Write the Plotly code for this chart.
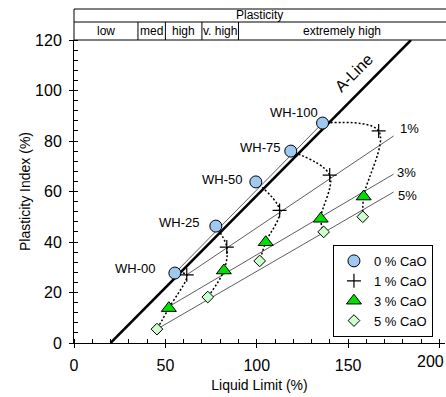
import plotly.graph_objects as go

# ---------------- data ----------------
samples = ["WH-00", "WH-25", "WH-50", "WH-75", "WH-100"]

ll_0 = [55.2, 77.6, 99.5, 118.6, 136.0]   # 0 % CaO
pi_0 = [27.7, 46.3, 63.8, 76.0, 87.1]
ll_1 = [61.7, 83.6, 112.5, 139.9, 166.7]  # 1 % CaO
pi_1 = [27.0, 38.0, 52.5, 66.5, 84.0]
ll_3 = [51.9, 82.0, 104.9, 135.0, 158.5]  # 3 % CaO
pi_3 = [13.8, 28.7, 39.9, 49.2, 58.0]
ll_5 = [45.4, 73.2, 101.6, 136.6, 158.0]  # 5 % CaO
pi_5 = [5.5, 18.2, 32.5, 44.0, 50.0]

# trend lines (end points)
trend0_ll = [55.2, 136.0]
trend0_pi = [27.7, 87.1]
trend1_ll = [61.7, 174.9]
trend1_pi = [27.0, 82.0]
trend3_ll = [51.9, 174.9]
trend3_pi = [14.4, 66.9]
trend5_ll = [45.4, 174.9]
trend5_pi = [5.5, 59.8]
trend_labels = ["1%", "3%", "5%"]

# A-line
aline_ll = [20, 184.4]
aline_pi = [0, 120]

# plasticity classification header
plast_bounds = [0, 35, 50, 70, 90, 203]
plast_labels = ["low", "med", "high", "v. high", "extremely high"]

legend_names = ["0 % CaO", "1 % CaO", "3 % CaO", "5 % CaO"]

x_tickvals = [0, 50, 100, 150, 200]
x_ticktext = ["0", "50", "100", "150", "200"]

FONT = "Liberation Sans, Arial, sans-serif"

fig = go.Figure()

# thin trend lines
for tx, ty in [(trend0_ll, trend0_pi), (trend1_ll, trend1_pi),
               (trend3_ll, trend3_pi), (trend5_ll, trend5_pi)]:
    fig.add_trace(go.Scatter(x=tx, y=ty, mode="lines",
                             line=dict(color="#333333", width=0.8),
                             showlegend=False, hoverinfo="skip"))

# A-line
fig.add_trace(go.Scatter(x=aline_ll, y=aline_pi, mode="lines",
                         line=dict(color="black", width=2.5),
                         showlegend=False, hoverinfo="skip"))

# dotted connecting curves for each sample
for i in range(len(samples)):
    fig.add_trace(go.Scatter(
        x=[ll_0[i], ll_1[i], ll_3[i], ll_5[i]],
        y=[pi_0[i], pi_1[i], pi_3[i], pi_5[i]],
        mode="lines",
        line=dict(color="black", width=1.5, dash="2px,2px", shape="spline", smoothing=1.0),
        showlegend=False, hoverinfo="skip"))

# markers
fig.add_trace(go.Scatter(x=ll_0, y=pi_0, mode="markers", name=legend_names[0],
                         marker=dict(symbol="circle", size=12, color="#9fc8f2",
                                     line=dict(color="black", width=1))))
fig.add_trace(go.Scatter(x=ll_1, y=pi_1, mode="markers", name=legend_names[1],
                         marker=dict(symbol="cross-thin-open", size=10, color="black",
                                     line=dict(color="black", width=1.2))))
fig.add_trace(go.Scatter(x=ll_3, y=pi_3, mode="markers", name=legend_names[2],
                         marker=dict(symbol="triangle-up", size=13, color="#00e000",
                                     line=dict(color="black", width=1))))
fig.add_trace(go.Scatter(x=ll_5, y=pi_5, mode="markers", name=legend_names[3],
                         marker=dict(symbol="diamond", size=9, color="#ccffcc",
                                     line=dict(color="black", width=1))))

annotations = []
# sample labels anchored at the 0 % CaO points
label_shifts = [(-18, 5), (-15, 4), (-12, 2), (-9, 4), (-3, 11)]
for i, s in enumerate(samples):
    annotations.append(dict(x=ll_0[i], y=pi_0[i], text=s, showarrow=False,
                            xanchor="right", yanchor="middle",
                            xshift=label_shifts[i][0], yshift=label_shifts[i][1],
                            font=dict(size=13, color="black", family=FONT)))
# trend labels at line ends
ends = [(trend1_ll[1], trend1_pi[1]), (trend3_ll[1], trend3_pi[1]), (trend5_ll[1], trend5_pi[1])]
end_shifts = [(4, 7), (1, 2), (2, -3)]
for (ex, ey), lab, (sx, sy) in zip(ends, trend_labels, end_shifts):
    annotations.append(dict(x=ex, y=ey, text=lab, showarrow=False,
                            xanchor="left", yanchor="middle", xshift=sx, yshift=sy,
                            font=dict(size=13, color="black", family=FONT)))
# A-line label
annotations.append(dict(x=160, y=102.2, text="A-Line", showarrow=False, textangle=-45,
                        xanchor="center", yanchor="middle", xshift=-12, yshift=12,
                        font=dict(size=16, color="black", family=FONT)))

# last x tick label, pushed inside the page as in the reference
annotations.append(dict(x=x_tickvals[-1], xref="x", y=0, yref="y", text=x_ticktext[-1],
                        showarrow=False, xanchor="right", yanchor="top",
                        xshift=6, yshift=-8,
                        font=dict(size=16, color="black", family=FONT)))

# header
shapes = []
row_mid = 1.0594
row_top = 1.1023
shapes.append(dict(type="rect", xref="paper", yref="paper", x0=0, x1=1.02,
                   y0=1.0, y1=row_top, line=dict(color="black", width=1)))
shapes.append(dict(type="line", xref="paper", yref="paper", x0=0, x1=1.02,
                   y0=row_mid, y1=row_mid, line=dict(color="black", width=1)))
for b in plast_bounds[1:-1]:
    shapes.append(dict(type="line", xref="x", yref="paper", x0=b, x1=b,
                       y0=1.0, y1=row_mid, line=dict(color="black", width=1)))
annotations.append(dict(x=(plast_bounds[0] + plast_bounds[-1]) / 2, xref="x",
                        y=1.081, yref="paper", text="Plasticity", showarrow=False,
                        xanchor="center", yanchor="middle",
                        font=dict(size=12, color="black", family=FONT)))
for j, lab in enumerate(plast_labels):
    annotations.append(dict(x=(plast_bounds[j] + plast_bounds[j + 1]) / 2, xref="x",
                            y=1.0297, yref="paper", text=lab, showarrow=False,
                            xanchor="center", yanchor="middle",
                            font=dict(size=12, color="black", family=FONT)))

fig.update_layout(
    width=446, height=397,
    margin=dict(l=74, r=1, t=40, b=54),
    paper_bgcolor="white", plot_bgcolor="white",
    font=dict(family=FONT, color="black"),
    showlegend=True,
    legend=dict(x=0.698, y=0.02, xanchor="left", yanchor="bottom",
                bordercolor="black", borderwidth=1, bgcolor="white",
                font=dict(size=13, family=FONT), tracegroupgap=0),
    xaxis=dict(range=[0, 203], showgrid=False, zeroline=False,
               showline=True, linecolor="black", linewidth=1,
               ticks="outside", ticklen=4, tickcolor="black",
               tickmode="array", tickvals=x_tickvals,
               ticktext=x_ticktext[:-1] + [""],
               tickfont=dict(size=16, family=FONT), ticklabelstandoff=4,
               minor=dict(ticks="inside", ticklen=4, dtick=10, tick0=0, tickcolor="black"),
               title=dict(text="Liquid Limit (%)", font=dict(size=14, family=FONT), standoff=6)),
    yaxis=dict(range=[0, 120], showgrid=False, zeroline=False,
               showline=True, linecolor="black", linewidth=1,
               ticks="outside", ticklen=4, tickcolor="black", dtick=20, tick0=0,
               tickfont=dict(size=16, family=FONT), ticklabelstandoff=4,
               minor=dict(ticks="inside", ticklen=4, dtick=4, tickcolor="black"),
               title=dict(text="Plasticity Index (%)", font=dict(size=14, family=FONT), standoff=1)),
    xaxis2=dict(overlaying="x", anchor="y", range=[0, 203], showgrid=False, zeroline=False,
                showline=False, ticks="inside", ticklen=4, tickcolor="black",
                dtick=50, tick0=0, showticklabels=False),
    yaxis2=dict(overlaying="y", anchor="x", side="left", range=[0, 120], showgrid=False,
                zeroline=False, showline=False, ticks="inside", ticklen=4,
                tickcolor="black", dtick=20, tick0=0, showticklabels=False),
    annotations=annotations,
    shapes=shapes,
)

fig.write_html("out.html")
